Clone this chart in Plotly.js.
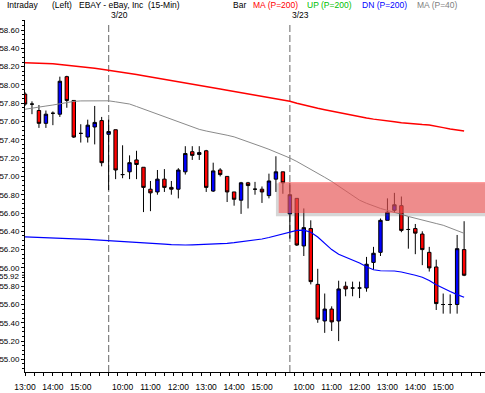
<!DOCTYPE html>
<html>
<head>
<meta charset="utf-8">
<script src="https://cdn.plot.ly/plotly-3.0.1.min.js"></script>
<style>
  html, body { margin: 0; padding: 0; background: #ffffff; }
  #chart { width: 485px; height: 393px; }
</style>
</head>
<body>
<div id="chart"></div>
<script>
// ---- Data (15-min bars, EBAY) ----
const barOpen  = [57.90,57.79,57.72,57.58,57.69,57.68,58.09,57.83,57.47,57.43,57.54,57.61,
                  57.46,57.51,57.02,57.05,57.18,57.10,56.86,56.83,56.97,56.88,56.86,57.05,57.27,57.24,57.28,56.84,57.07,57.00,56.83,56.74,56.93,56.86,56.86,56.79,56.97,57.05,
                  56.59,56.76,56.24,56.43,55.82,55.42,55.55,55.42,55.80,55.78,55.78,55.78,56.06,56.17,56.52,56.63,56.68,56.42,56.43,56.37,56.17,56.01,55.60,55.60,55.60,56.20];
const barHigh  = [57.92,57.82,57.78,57.72,57.71,58.09,58.10,57.83,57.57,57.62,57.77,57.65,
                  57.62,57.51,57.34,57.23,57.28,57.10,56.95,57.07,57.08,56.95,57.09,57.33,57.33,57.33,57.29,57.15,57.09,57.00,56.83,56.94,56.94,56.94,56.89,57.03,57.22,57.05,
                  56.93,56.76,56.65,56.52,55.99,55.72,55.58,55.86,55.85,55.85,55.85,56.12,56.23,56.54,56.76,56.82,56.78,56.56,56.48,56.40,56.23,56.09,55.72,55.71,56.36,56.51];
const barLow   = [57.77,57.68,57.53,57.53,57.56,57.65,57.75,57.42,57.37,57.37,57.35,57.11,
                  56.85,56.97,56.98,56.97,56.97,56.61,56.62,56.80,56.83,56.80,56.76,57.02,57.18,57.18,56.83,56.83,57.00,56.72,56.68,56.59,56.65,56.80,56.71,56.76,56.83,56.81,
                  56.32,56.24,56.13,55.82,55.40,55.29,55.31,55.20,55.69,55.69,55.67,55.74,55.98,56.13,56.52,56.60,56.39,56.21,56.15,56.03,55.96,55.54,55.50,55.50,55.50,55.91];
const barClose = [57.79,57.79,57.58,57.68,57.69,58.04,57.83,57.43,57.47,57.56,57.59,57.15,
                  57.49,57.07,57.02,57.15,57.13,56.88,56.82,56.97,56.88,56.86,57.07,57.25,57.23,57.26,56.88,57.06,57.02,56.83,56.75,56.93,56.90,56.86,56.83,56.95,57.05,56.93,
                  56.80,56.25,56.44,55.85,55.44,55.55,55.41,55.77,55.77,55.78,55.78,56.04,56.16,56.52,56.61,56.69,56.41,56.42,56.38,56.20,56.00,55.61,55.60,55.60,56.21,55.92];

// Moving averages / bands
const ma200 = [58.243,58.242,58.237,58.234,58.230,58.223,58.215,58.208,58.200,58.192,58.182,58.172,
               58.162,58.150,58.139,58.127,58.114,58.101,58.087,58.074,58.061,58.048,58.035,58.022,58.009,57.996,57.983,57.968,57.955,57.942,57.929,57.916,57.903,57.890,57.877,57.862,57.849,57.835,
               57.821,57.800,57.780,57.762,57.744,57.729,57.713,57.697,57.681,57.666,57.652,57.639,57.626,57.614,57.605,57.597,57.587,57.578,57.570,57.567,57.563,57.551,57.533,57.518,57.507,57.496];
const ma40  = [57.734,57.748,57.760,57.769,57.780,57.796,57.808,57.820,57.825,57.826,57.827,57.827,
               57.826,57.815,57.804,57.791,57.764,57.736,57.707,57.679,57.651,57.625,57.598,57.568,57.540,57.514,57.496,57.483,57.469,57.450,57.432,57.407,57.378,57.350,57.324,57.296,57.266,57.234,
               57.201,57.163,57.122,57.074,57.033,56.990,56.945,56.892,56.838,56.787,56.740,56.706,56.677,56.650,56.628,56.609,56.586,56.562,56.541,56.522,56.505,56.485,56.466,56.439,56.409,56.378];
const dn200 = [56.338,56.336,56.333,56.330,56.327,56.325,56.321,56.318,56.315,56.311,56.307,56.304,
               56.299,56.295,56.290,56.285,56.281,56.276,56.271,56.266,56.260,56.255,56.250,56.250,56.252,56.255,56.257,56.259,56.261,56.269,56.276,56.285,56.294,56.305,56.316,56.332,56.351,56.373,
               56.396,56.410,56.413,56.390,56.338,56.269,56.200,56.149,56.119,56.092,56.054,56.012,55.980,55.969,55.968,55.966,55.955,55.939,55.920,55.898,55.863,55.815,55.775,55.742,55.708,55.679];

// Axis labels
const timeTickIdx   = [0,4,8,14,18,22,26,30,34,40,44,48,52,56,60];
const timeTickText  = ['13:00','14:00','15:00','10:00','11:00','12:00','13:00','14:00','15:00','10:00','11:00','12:00','13:00','14:00','15:00'];
const dayStartIdx   = [12, 38];
const dayLabels     = ['3/20', '3/23'];
const priceTicks    = [58.60,58.40,58.20,58.00,57.80,57.60,57.40,57.20,57.00,56.80,56.60,56.40,56.20,56.00,55.80,55.60,55.40,55.20,55.00];
const lastPrice     = 55.92;
const zoneStartIdx  = 36.4;
const zoneLow       = 56.60;
const zoneHigh      = 56.94;

// Header legend texts
const headerTexts  = ['Intraday','(Left)','EBAY - eBay, Inc\u00a0\u00a0(15-Min)','Bar','MA (P=200)','UP (P=200)','DN (P=200)','MA (P=40)'];
const headerColors = ['#000000','#000000','#000000','#000000','#ff0000','#00c000','#0000ff','#808080'];
const headerLeftPx = [5, 50, 77, 231, 251, 305, 360, 415];

// ---- Build ----
const idx = barOpen.map((_, i) => i);
const FONT = '"Liberation Sans", Arial, sans-serif';
const FS = 8.5;
const FSY = 8;

const W = 485, H = 393;
const M = {l: 25, r: 0, t: 20, b: 21};
const plotW = W - M.l - M.r, plotH = H - M.t - M.b;
const pxToPaperX = px => (px - M.l) / plotW;
const pxToPaperY = py => (H - M.b - py) / plotH;

const traces = [
  {type: 'scatter', mode: 'lines', x: idx, y: dn200, line: {color: '#0000ff', width: 1.2}, hoverinfo: 'skip'},
  {type: 'scatter', mode: 'lines', x: idx, y: ma40, line: {color: '#8a8a8a', width: 1}, hoverinfo: 'skip'},
  {type: 'scatter', mode: 'lines', x: idx, y: ma200, line: {color: '#ff0000', width: 1.5}, hoverinfo: 'skip'},
  {type: 'candlestick', x: idx, open: barOpen, high: barHigh, low: barLow, close: barClose,
   increasing: {line: {color: '#000000', width: 1}, fillcolor: '#0000ff'},
   decreasing: {line: {color: '#000000', width: 1}, fillcolor: '#ff0000'},
   whiskerwidth: 0, hoverinfo: 'skip'}
];

const annotations = headerTexts.map((t, i) => ({
  text: t, xref: 'paper', yref: 'paper',
  x: pxToPaperX(headerLeftPx[i]), y: pxToPaperY(5.5),
  xanchor: 'left', yanchor: 'middle', showarrow: false,
  font: {family: FONT, size: FS, color: headerColors[i]}
}));
dayLabels.forEach((d, i) => annotations.push({
  text: d, xref: 'x', yref: 'paper', x: dayStartIdx[i], y: pxToPaperY(14.5),
  xanchor: 'left', yanchor: 'middle', xshift: 0, showarrow: false,
  font: {family: FONT, size: FS, color: '#000000'}
}));
// last price label on the price axis
annotations.push({
  text: lastPrice.toFixed(2), xref: 'paper', yref: 'y', x: 0, y: lastPrice,
  xanchor: 'right', yanchor: 'middle', xshift: -3, yshift: -1, showarrow: false,
  font: {family: FONT, size: FSY, color: '#000000'}
});

const shapes = [];
dayStartIdx.forEach(d => shapes.push({
  type: 'line', xref: 'x', yref: 'paper', x0: d, x1: d, y0: 0, y1: pxToPaperY(22),
  line: {color: '#808080', width: 1.2, dash: '7px,3px'}, layer: 'below'
}));
shapes.push({
  type: 'rect', xref: 'x', yref: 'y', x0: zoneStartIdx - 0.4, x1: 70, y0: zoneLow - 0.035, y1: zoneHigh - 0.015,
  fillcolor: 'rgba(70,70,70,0.22)', line: {width: 0}, layer: 'above'
});
shapes.push({
  type: 'rect', xref: 'x', yref: 'y', x0: zoneStartIdx, x1: 70, y0: zoneLow, y1: zoneHigh,
  fillcolor: 'rgba(255,87,87,0.58)', line: {width: 0}, layer: 'above'
});
// tick mark for last price
shapes.push({
  type: 'line', xref: 'paper', yref: 'y', x0: -3 / plotW, x1: 0, y0: lastPrice, y1: lastPrice,
  line: {color: '#000000', width: 1}, layer: 'above'
});

const layout = {
  width: W, height: H,
  margin: M,
  paper_bgcolor: '#ffffff', plot_bgcolor: '#ffffff',
  showlegend: false,
  font: {family: FONT, size: FS, color: '#000000'},
  xaxis: {
    type: 'linear', range: [(M.l - 25) / 6.97, (W - 25) / 6.97],
    showgrid: false, zeroline: false, showline: true, linecolor: '#000000', linewidth: 1,
    tickmode: 'array', tickvals: timeTickIdx, ticktext: timeTickText,
    ticks: '', ticklabelstandoff: 7,
    tickfont: {family: FONT, size: FS, color: '#000000'},
    minor: {ticks: 'outside', ticklen: 3, tickcolor: '#000000', tickwidth: 1, tickmode: 'linear', tick0: 0, dtick: 4/3, showgrid: false},
    rangeslider: {visible: false}, fixedrange: true
  },
  yaxis: {
    type: 'linear', range: [58.6 - (H - M.b - 30) / 91.5, 58.6 + (30 - M.t) / 91.5],
    showgrid: false, zeroline: false, showline: true, linecolor: '#000000', linewidth: 1,
    tickmode: 'array', tickvals: priceTicks, ticktext: priceTicks.map(v => v.toFixed(2)),
    ticks: 'outside', ticklen: 3, tickcolor: '#000000', tickwidth: 1, ticklabelstandoff: 0,
    tickfont: {family: FONT, size: FSY, color: '#000000'},
    minor: {ticks: 'outside', ticklen: 2, tickcolor: '#000000', tickmode: 'linear', tick0: 55, dtick: 0.05, showgrid: false},
    fixedrange: true
  },
  annotations: annotations,
  shapes: shapes
};

Plotly.newPlot('chart', traces, layout, {staticPlot: true, displayModeBar: false});
</script>
</body>
</html>
